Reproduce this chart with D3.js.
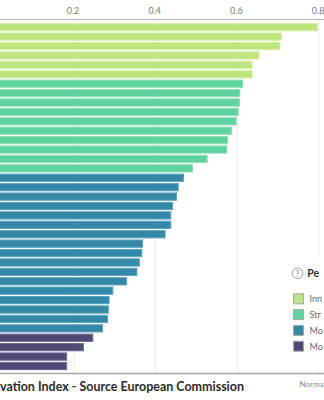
<!DOCTYPE html>
<html>
<head>
<meta charset="utf-8">
<script src="https://cdn.jsdelivr.net/npm/d3@7"></script>
<style>
  html, body { margin: 0; padding: 0; background: #fff; overflow: hidden; }
  svg { display: block; }
</style>
</head>
<body>
<div id="chart"></div>
<script>
// ---- Data ----
const countries = [
  "Switzerland","Sweden","Finland","Denmark","Netherlands","Luxembourg",
  "Belgium","Germany","United Kingdom","Austria","Ireland","Iceland","Norway","Israel","Estonia","France",
  "Portugal","Czechia","Cyprus","Slovenia","Malta","Italy","Spain","Lithuania","Greece","Hungary","Latvia",
  "Slovakia","Poland","Croatia","Serbia","Turkey","Montenegro",
  "Bulgaria","Romania","North Macedonia","Ukraine"
];
const scores = [
  0.796, 0.708, 0.704, 0.653, 0.636, 0.636,
  0.613, 0.606, 0.605, 0.602, 0.597, 0.586, 0.576, 0.574, 0.526, 0.490,
  0.468, 0.455, 0.451, 0.441, 0.437, 0.437, 0.423, 0.368, 0.366, 0.360, 0.354,
  0.329, 0.295, 0.286, 0.284, 0.282, 0.270,
  0.246, 0.223, 0.182, 0.182
];
const groupOf = [
  0,0,0,0,0,0,
  1,1,1,1,1,1,1,1,1,1,
  2,2,2,2,2,2,2,2,2,2,2,2,2,2,2,2,2,
  3,3,3,3
];
const groups = ["Innovation leaders","Strong innovators","Moderate innovators","Modest innovators"];
const groupColors = ["#bde57f","#5fd39d","#3388a7","#4d4a76"];
const groupStrokes = ["#d6efaa","#8fe0ba","#5aa3bf","#6e6b93"];
const tickValues = [0.2, 0.4, 0.6, 0.8];
const legendTitle = "Performance group";
const chartTitle = "vation Index - Source European Commission";
const axisTitle = "Normalised score";

// ---- Layout ----
const W = 324, H = 400;
const svg = d3.select("#chart").append("svg").attr("width", W).attr("height", H);
svg.append("rect").attr("width", W).attr("height", H).attr("fill", "#fff");

// shorten a text so that it ends inside the view (the view is cropped on the right)
function fitRight(sel, maxX) {
  sel.each(function() {
    const t = d3.select(this);
    const full = t.text();
    const x0 = +t.attr("x") || 0;
    let s = full;
    while (s.length > 1 && x0 + this.getComputedTextLength() > maxX) {
      s = s.slice(0, -1);
      t.text(s);
    }
    t.append("title").text(full);
  });
}

const x = d3.scaleLinear().domain([0, 0.8]).range([-7.7, 319.1]);
const y = d3.scaleBand().domain(countries).range([22.7, 370.5]).paddingInner(0.12).paddingOuter(0.04);

// gridlines
svg.append("g").selectAll("line").data(tickValues).join("line")
  .attr("x1", d => x(d)).attr("x2", d => x(d))
  .attr("y1", 19).attr("y2", 373)
  .attr("stroke", "#ececec").attr("stroke-width", 1);

// top axis with d3
const axis = d3.axisTop(x).tickValues(tickValues).tickFormat(d3.format(".1f")).tickSize(0).tickPadding(6);
const gAxis = svg.append("g").attr("transform", "translate(0,19.5)").call(axis);
gAxis.select(".domain").remove();
gAxis.selectAll("text")
  .attr("dx", -1.5)
  .attr("font-family", "Lato, 'Open Sans', sans-serif")
  .attr("font-size", 9)
  .attr("fill", "#7a7a7a");
svg.append("line").attr("x1", 0).attr("x2", W).attr("y1", 19.5).attr("y2", 19.5)
  .attr("stroke", "#b4b4b4").attr("stroke-width", 1.2);

// bars
const rows = countries.map((c, i) => ({ c, v: scores[i], g: groupOf[i] }));
svg.append("g").selectAll("rect").data(rows).join("rect")
  .attr("x", x(0))
  .attr("y", d => y(d.c) + 0.5)
  .attr("width", d => x(d.v) - x(0))
  .attr("height", y.bandwidth() - 1)
  .attr("fill", d => groupColors[d.g])
  .attr("stroke", d => groupStrokes[d.g])
  .attr("stroke-width", 1);

// bottom line
svg.append("line").attr("x1", 0).attr("x2", W).attr("y1", 373.5).attr("y2", 373.5)
  .attr("stroke", "#a8a8a8").attr("stroke-width", 1.5);

// title (cropped at left)
svg.append("text")
  .attr("x", 0).attr("y", 390.5)
  .attr("font-family", "Lato, 'Open Sans', sans-serif")
  .attr("font-weight", "bold")
  .attr("font-size", 12.5)
  .attr("fill", "#2b2b2b")
  .attr("textLength", 244).attr("lengthAdjust", "spacingAndGlyphs")
  .text(chartTitle);

svg.append("text")
  .attr("x", 299.5).attr("y", 387)
  .attr("font-family", "Lato, 'Open Sans', sans-serif")
  .attr("font-size", 8)
  .attr("fill", "#8a8a8a")
  .text(axisTitle)
  .call(fitRight, W);

// legend
const lg = svg.append("g");
lg.append("rect").attr("x", 286).attr("y", 258).attr("width", 38).attr("height", 113).attr("fill", "#fff");
lg.append("circle").attr("cx", 297.5).attr("cy", 273.3).attr("r", 5.3)
  .attr("fill", "#fff").attr("stroke", "#9a9a9a").attr("stroke-width", 1);
lg.append("text").attr("x", 297.5).attr("y", 276.5).attr("text-anchor", "middle")
  .attr("font-family", "Lato, 'Open Sans', sans-serif").attr("font-size", 8.5)
  .attr("fill", "#8a8a8a").text("?");
lg.append("text").attr("x", 307.3).attr("y", 276.8)
  .attr("font-family", "Lato, 'Open Sans', sans-serif").attr("font-weight", "bold")
  .attr("font-size", 10.5).attr("fill", "#333").text(legendTitle)
  .call(fitRight, W - 1);

const items = lg.selectAll("g.item").data(groups).join("g").attr("class", "item")
  .attr("transform", (d, i) => `translate(293, ${293.3 + i * 15.8})`);
items.append("rect").attr("x", 0.5).attr("y", 0.5).attr("width", 10).attr("height", 10)
  .attr("fill", (d, i) => groupColors[i]).attr("stroke", "#a9a9a9").attr("stroke-width", 1);
items.append("text").attr("x", 16.5).attr("y", 8.8)
  .attr("font-family", "Lato, 'Open Sans', sans-serif").attr("font-size", 9)
  .attr("fill", "#666").text(d => d)
  .call(fitRight, W - 293);
</script>
</body>
</html>
